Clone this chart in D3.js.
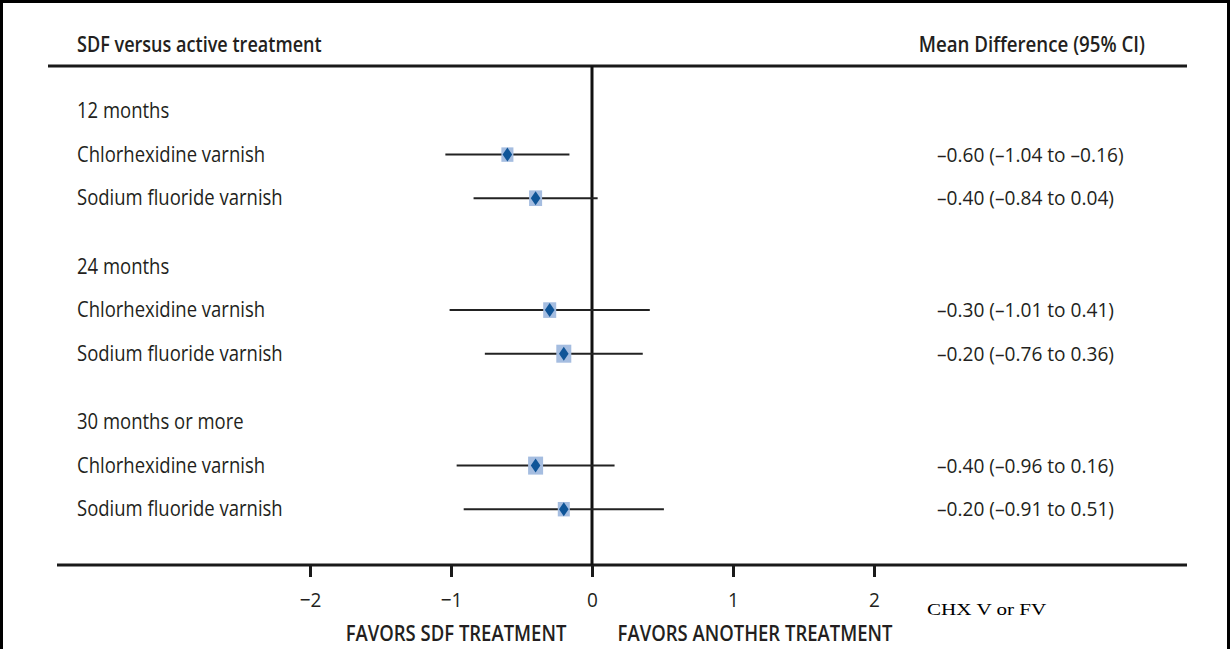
<!DOCTYPE html>
<html>
<head>
<meta charset="utf-8">
<script src="https://cdn.jsdelivr.net/npm/d3@7"></script>
<style>
  html, body { margin: 0; padding: 0; background: #fff; }
  svg { display: block; }
  text { font-family: "Open Sans", "Noto Sans", sans-serif; fill: #231f20; }
</style>
</head>
<body>
<svg id="chart" width="1230" height="649"></svg>
<script>
// Forest plot: SDF versus active treatment, mean difference with 95% CI
const groups = ["12 months", "24 months", "30 months or more"];
const comparators = ["Chlorhexidine varnish", "Sodium fluoride varnish"];
const meanDiff = [-0.60, -0.40, -0.30, -0.20, -0.40, -0.20];
const ciLow    = [-1.04, -0.84, -1.01, -0.76, -0.96, -0.91];
const ciHigh   = [-0.16,  0.04,  0.41,  0.36,  0.16,  0.51];
const weights  = [ 9.4, 11.0, 11.0, 14.6, 14.6, 9.4];
const tickValues = [-2, -1, 0, 1, 2];

const W = 1230, H = 649;
const svg = d3.select("#chart");

const fmt = v => (v < 0 ? "\u2013" : "") + Math.abs(v).toFixed(2);

// horizontal squeeze of a text element to imitate a condensed face
function condense(sel, k) {
  sel.each(function () {
    const w = this.getComputedTextLength();
    d3.select(this).attr("textLength", w * k).attr("lengthAdjust", "spacingAndGlyphs");
  });
}

// frame
svg.append("rect").attr("x", 1.5).attr("y", 1.5).attr("width", W - 3).attr("height", H + 10)
  .attr("fill", "none").attr("stroke", "#000").attr("stroke-width", 3);

// scales
const x = d3.scaleLinear().domain([-2, 2]).range([310, 874]);
const groupStep = 155.5, rowStep = 43.6, firstHeader = 111;
const headerY = i => firstHeader + i * groupStep;
const rowY = i => headerY(Math.floor(i / 2)) + rowStep * (1 + i % 2);
const boxSize = d3.scaleSqrt().domain([0, 14.6]).range([0, 15]);

const topY = 66, axisY = 565, leftX = 48, rightX = 1187;
const K = 0.84;

// column headings
svg.append("text").attr("x", 77).attr("y", 52).attr("font-size", 21.5).attr("font-weight", 600)
  .text("SDF versus active treatment").call(condense, K);
svg.append("text").attr("x", 1145).attr("y", 52).attr("font-size", 21.5).attr("font-weight", 600)
  .attr("text-anchor", "end").text("Mean Difference (95% CI)").call(condense, 0.87);

// rules
svg.append("line").attr("x1", leftX).attr("x2", rightX).attr("y1", topY).attr("y2", topY)
  .attr("stroke", "#1a1a1a").attr("stroke-width", 3);
svg.append("line").attr("x1", 57).attr("x2", rightX).attr("y1", axisY).attr("y2", axisY)
  .attr("stroke", "#1a1a1a").attr("stroke-width", 3);
svg.append("line").attr("x1", x(0)).attr("x2", x(0)).attr("y1", topY).attr("y2", axisY)
  .attr("stroke", "#111").attr("stroke-width", 3);

// group headers
svg.selectAll("text.group").data(groups).join("text").attr("class", "group")
  .attr("x", 77).attr("y", (d, i) => headerY(i) + 7).attr("font-size", 22)
  .text(d => d).call(condense, K);

// study rows
const rows = meanDiff.map((m, i) => ({
  label: comparators[i % 2], m, lo: ciLow[i], hi: ciHigh[i], w: weights[i], y: rowY(i)
}));

svg.selectAll("text.label").data(rows).join("text").attr("class", "label")
  .attr("x", 77).attr("y", d => d.y + 7).attr("font-size", 22)
  .text(d => d.label).call(condense, K);

svg.selectAll("text.est").data(rows).join("text").attr("class", "est")
  .attr("x", 937).attr("y", d => d.y + 7).attr("font-size", 19.5)
  .text(d => `${fmt(d.m)} (${fmt(d.lo)} to ${fmt(d.hi)})`).call(condense, 0.98);

svg.selectAll("line.ci").data(rows).join("line").attr("class", "ci")
  .attr("x1", d => x(d.lo)).attr("x2", d => x(d.hi))
  .attr("y1", d => d.y).attr("y2", d => d.y)
  .attr("stroke", "#222").attr("stroke-width", 2);

svg.selectAll("rect.box").data(rows).join("rect").attr("class", "box")
  .attr("x", d => x(d.m) - boxSize(d.w) / 2)
  .attr("y", d => d.y - boxSize(d.w) * 0.6)
  .attr("width", d => boxSize(d.w)).attr("height", d => boxSize(d.w) * 1.2)
  .attr("fill", "#a5bde0");

svg.selectAll("path.diamond").data(rows).join("path").attr("class", "diamond")
  .attr("d", d => {
    const cx = x(d.m), cy = d.y, hw = 4.8, hh = 7;
    return `M${cx},${cy - hh}L${cx + hw},${cy}L${cx},${cy + hh}L${cx - hw},${cy}Z`;
  })
  .attr("fill", "#0f5598");

// axis
const axis = d3.axisBottom(x).tickValues(tickValues).tickSize(12).tickPadding(16)
  .tickFormat(d => d < 0 ? "\u2212" + Math.abs(d) : String(d));
const gAxis = svg.append("g").attr("transform", `translate(0,${axisY})`).call(axis);
gAxis.select(".domain").remove();
gAxis.selectAll(".tick line").attr("stroke", "#1a1a1a").attr("stroke-width", 3);
gAxis.selectAll(".tick text").attr("font-size", 20).attr("fill", "#231f20")
  .attr("font-family", "'Open Sans', sans-serif").call(condense, 0.95);

// direction labels
svg.append("text").attr("x", 456).attr("y", 641).attr("text-anchor", "middle")
  .attr("font-size", 22).attr("font-weight", 600).text("FAVORS SDF TREATMENT").call(condense, K);
svg.append("text").attr("x", 755).attr("y", 641).attr("text-anchor", "middle")
  .attr("font-size", 22).attr("font-weight", 600).text("FAVORS ANOTHER TREATMENT").call(condense, K);

svg.append("text").attr("x", 927).attr("y", 615).attr("font-size", 17)
  .style("font-family", "'Liberation Serif', 'Times New Roman', serif").style("fill", "#000")
  .text("CHX V or FV").call(condense, 1.24);
</script>
</body>
</html>
